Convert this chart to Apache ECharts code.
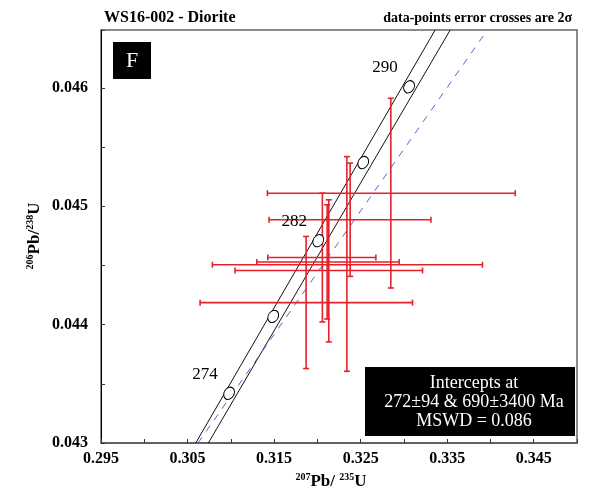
<!DOCTYPE html>
<html>
<head>
<meta charset="utf-8">
<title>WS16-002 - Diorite</title>
<script src="https://cdn.jsdelivr.net/npm/echarts@6/dist/echarts.min.js"></script>
<style>
  html, body { margin: 0; padding: 0; background: #fff; }
  #chart { width: 598px; height: 499px; }
</style>
</head>
<body>
<div id="chart"></div>
<script>
// concordia age markers (Ma)
var ageX = [0.3098, 0.3149, 0.3201, 0.3253, 0.3306];
var ageY = [0.04342, 0.04407, 0.04471, 0.04537, 0.04601];
var ageLabels = ["274", "", "282", "", "290"];

// concordia error envelope (two edges) and the dashed reference line
var envLeftX = [0.30595, 0.33361];
var envRightX = [0.30740, 0.33535];
var envY = [0.043, 0.04649];
var refX = [0.30621, 0.33916];
var refY = [0.043, 0.046439];

// data-point error crosses (2 sigma)
var crossX   = [0.32849, 0.32379, 0.32058, 0.32113, 0.32341, 0.32132, 0.31870];
var crossY   = [0.045111, 0.044886, 0.044568, 0.044529, 0.044506, 0.044458, 0.044186];
var crossXLo = [0.31423, 0.31442, 0.31427, 0.31300, 0.30787, 0.31049, 0.30645];
var crossXHi = [0.34286, 0.33312, 0.32676, 0.32945, 0.33908, 0.33215, 0.33099];
var crossYLo = [0.044310, 0.044408, 0.044023, 0.044048, 0.043606, 0.043854, 0.043629];
var crossYHi = [0.045913, 0.045365, 0.045111, 0.045013, 0.045420, 0.045055, 0.044745];

var SERIF = '"Liberation Serif", "DejaVu Serif", serif';
var RED = "#e4212b";

var crossData = crossX.map(function (x, i) {
  return [x, crossY[i], crossXLo[i], crossXHi[i], crossYLo[i], crossYHi[i]];
});

function renderCross(params, api) {
  var c = api.coord([api.value(0), api.value(1)]);
  var l = api.coord([api.value(2), api.value(1)]);
  var r = api.coord([api.value(3), api.value(1)]);
  var b = api.coord([api.value(0), api.value(4)]);
  var t = api.coord([api.value(0), api.value(5)]);
  var cap = 3;
  var st = { stroke: RED, lineWidth: 1.6 };
  function seg(x1, y1, x2, y2) {
    return { type: "line", shape: { x1: x1, y1: y1, x2: x2, y2: y2 }, style: st };
  }
  return {
    type: "group",
    children: [
      seg(l[0], c[1], r[0], c[1]),
      seg(l[0], c[1] - cap, l[0], c[1] + cap),
      seg(r[0], c[1] - cap, r[0], c[1] + cap),
      seg(c[0], t[1], c[0], b[1]),
      seg(c[0] - cap, t[1], c[0] + cap, t[1]),
      seg(c[0] - cap, b[1], c[0] + cap, b[1])
    ]
  };
}

var rich = {
  sup: { fontFamily: SERIF, fontWeight: "bold", fontSize: 10, lineHeight: 10, verticalAlign: "top", fill: "#000", color: "#000" },
  n: { fontFamily: SERIF, fontWeight: "bold", fontSize: 17, lineHeight: 20, fill: "#000", color: "#000" }
};

var option = {
  animation: false,
  backgroundColor: "#fff",
  grid: {
    left: 101, right: 21, top: 30, bottom: 56,
    show: true, borderColor: "#666", borderWidth: 1.5
  },
  xAxis: {
    type: "value",
    min: 0.295, max: 0.35, interval: 0.005,
    axisLine: { show: true, lineStyle: { color: "#555", width: 1.5 } },
    axisTick: { show: true, inside: true, length: 4, lineStyle: { color: "#333" } },
    splitLine: { show: false },
    axisLabel: {
      margin: 8,
      fontFamily: SERIF, fontWeight: "bold", fontSize: 16, color: "#000",
      formatter: function (v) {
        var k = Math.round((v - 0.295) / 0.005);
        if (k % 2 !== 0 || v > 0.3475) return "";
        return (0.295 + k * 0.005).toFixed(3);
      }
    }
  },
  yAxis: {
    type: "value",
    min: 0.043, max: 0.04649, interval: 0.0005,
    axisLine: { show: true, lineStyle: { color: "#000", width: 1 } },
    axisTick: { show: true, inside: true, length: 4, lineStyle: { color: "#333" } },
    splitLine: { show: false },
    axisLabel: {
      margin: 13,
      fontFamily: SERIF, fontWeight: "bold", fontSize: 16, color: "#000",
      formatter: function (v) {
        var k = Math.round((v - 0.043) / 0.0005);
        if (k % 2 !== 0 || Math.abs(v - (0.043 + k * 0.0005)) > 1e-7) return "";
        return (0.043 + k * 0.0005).toFixed(3);
      }
    }
  },
  graphic: [
    { type: "text", left: 104, top: 10,
      style: { text: "WS16-002 - Diorite", font: "bold 16px " + SERIF, fill: "#000" } },
    { type: "text", right: 26, top: 11,
      style: { text: "data-points error crosses are 2\u03c3", font: "bold 14px " + SERIF, fill: "#000" } },
    { type: "rect", shape: { x: 113, y: 42, width: 38, height: 37 }, style: { fill: "#000" } },
    { type: "text", x: 132, y: 61,
      style: { text: "F", font: "22px " + SERIF, fill: "#fff", align: "center", verticalAlign: "middle" } },
    { type: "rect", shape: { x: 365, y: 367, width: 210, height: 69 }, style: { fill: "#000" } },
    { type: "text", x: 474, y: 402,
      style: {
        text: "Intercepts at\n272\u00b194 & 690\u00b13400 Ma\nMSWD = 0.086",
        font: "18px " + SERIF, lineHeight: 19, fill: "#fff", align: "center", verticalAlign: "middle"
      } },
    { type: "text", x: 331, y: 482,
      style: {
        text: "{sup|207}{n|Pb/ }{sup|235}{n|U}", rich: rich,
        align: "center", verticalAlign: "middle"
      } },
    { type: "text", x: 35, y: 236, rotation: Math.PI / 2,
      style: {
        text: "{sup|206}{n|Pb/}{sup|238}{n|U}", rich: rich,
        align: "center", verticalAlign: "middle"
      } }
  ],
  series: [
    {
      type: "line", data: envLeftX.map(function (x, i) { return [x, envY[i]]; }),
      symbol: "none", lineStyle: { color: "#111", width: 1 }, z: 2
    },
    {
      type: "line", data: envRightX.map(function (x, i) { return [x, envY[i]]; }),
      symbol: "none", lineStyle: { color: "#111", width: 1 }, z: 2
    },
    {
      type: "line", data: refX.map(function (x, i) { return [x, refY[i]]; }),
      symbol: "none", lineStyle: { color: "#5468cc", width: 1, type: [7, 7] }, z: 2
    },
    {
      type: "custom", renderItem: renderCross, data: crossData,
      encode: { x: [0, 2, 3], y: [1, 4, 5] }, z: 3
    },
    {
      type: "scatter",
      data: ageX.map(function (x, i) { return [x, ageY[i]]; }),
      symbol: "circle", symbolSize: [10, 13], symbolRotate: -30,
      itemStyle: { color: "#fff", borderColor: "#000", borderWidth: 1, opacity: 1 },
      emphasis: { disabled: true },
      label: {
        show: true, offset: [-24, -19], position: "inside",
        fontFamily: SERIF, fontSize: 17, color: "#000",
        formatter: function (p) { return ageLabels[p.dataIndex]; }
      },
      z: 4
    }
  ]
};

var chart = echarts.init(document.getElementById("chart"));
chart.setOption(option);
</script>
</body>
</html>
